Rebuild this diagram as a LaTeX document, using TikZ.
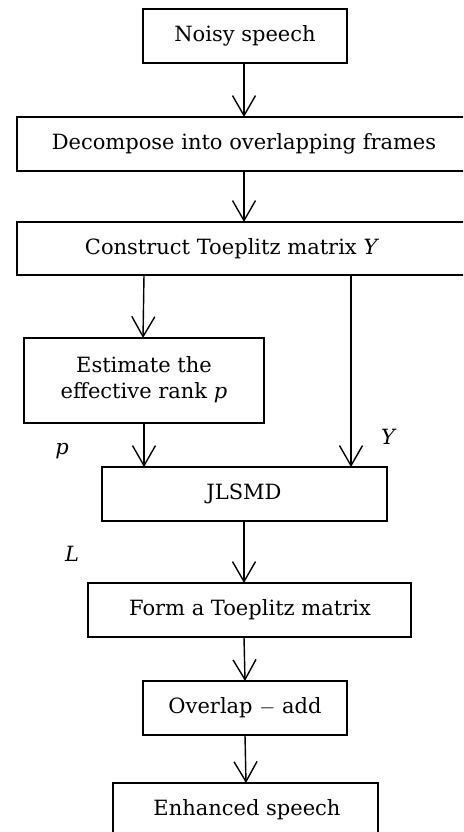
\documentclass[tikz,border=0pt]{standalone}
\usepackage{fontspec}
\setmainfont{DejaVu Serif}
\usetikzlibrary{arrows.meta}
\begin{document}
\begin{tikzpicture}[x=1pt,y=-1pt,
  box/.style={draw,line width=1.2pt},
  lbl/.style={font=\fontsize{21}{26}\selectfont},
  arr/.style={line width=1.4pt,-{Straight Barb[length=20pt,width=23pt,line width=1.4pt]}},
  var/.style={font=\fontsize{21}{26}\selectfont\itshape}]
\useasboundingbox (0,0) rectangle (463,832);
\clip (0,0) rectangle (463,832);
\fill[white] (0,0) rectangle (463,832);
% boxes
\draw[box] (143,9) rectangle (347,63);
\node[lbl] (n1) at (245,36) {Noisy speech};
\draw[box] (17,117) rectangle (480,171);
\node[lbl] (n2) at (244,144) {Decompose into overlapping frames};
\draw[box] (17,222) rectangle (480,275);
\node[lbl] (n3) at (232,249) {Construct Toeplitz matrix \textit{Y}};
\draw[box] (24,338) rectangle (264,423);
\node[lbl,align=center] (n4) at (144,380) {Estimate the\\effective rank \textit{p}};
\draw[box] (102,467) rectangle (387,521);
\node[lbl] (n5) at (244,494) {JLSMD};
\draw[box] (88,583) rectangle (411,637);
\node[lbl] (n6) at (250,610) {Form a Toeplitz matrix};
\draw[box] (143,681) rectangle (347,735);
\node[lbl] (n7) at (245,708) {Overlap $-$ add};
\draw[box] (113,783) rectangle (378,850);
\node[lbl] (n8) at (247,810) {Enhanced speech};
% coordinates
\coordinate (a1) at (244,63); \coordinate (b1) at (244,117);
\coordinate (a2) at (244,171); \coordinate (b2) at (244,222);
\coordinate (a3) at (144,275); \coordinate (b3) at (143,338);
\coordinate (a4) at (351,275); \coordinate (b4) at (351,467);
\coordinate (a5) at (144,423); \coordinate (b5) at (144,467);
\coordinate (a6) at (244,521); \coordinate (b6) at (244,583);
\coordinate (a7) at (244,637); \coordinate (b7) at (245,681);
\coordinate (a8) at (245,735); \coordinate (b8) at (246,783);
\draw[arr] (a1) -- (b1);
\draw[arr] (a2) -- (b2);
\draw[arr] (a3) -- (b3);
\draw[arr] (a4) -- (b4);
\draw[arr] (a5) -- (b5);
\draw[arr] (a6) -- (b6);
\draw[arr] (a7) -- (b7);
\draw[arr] (a8) -- (b8);
% labels
\node[var] (lp) at (62,451) {p};
\node[var] (lY) at (388,437) {Y};
\node[var] (lL) at (72,554) {L};
\end{tikzpicture}
\end{document}
